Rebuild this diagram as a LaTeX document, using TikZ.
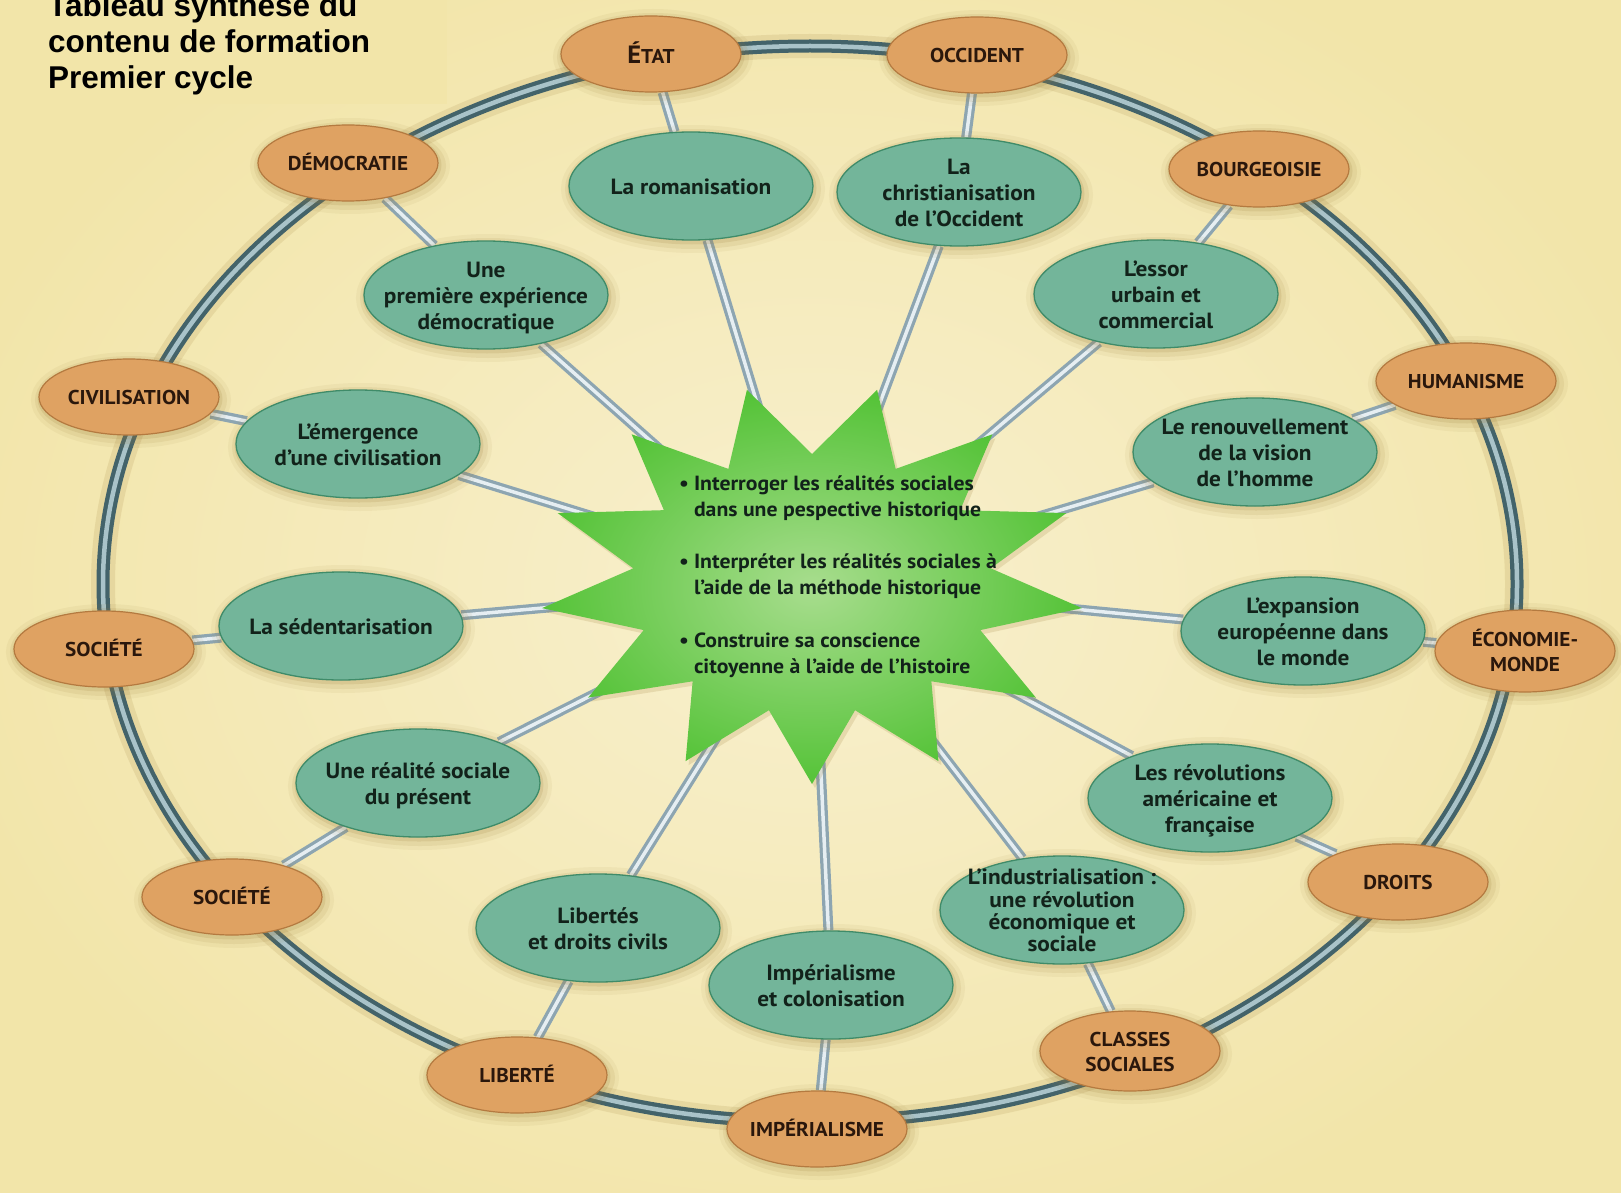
\documentclass[tikz,border=0pt]{standalone}
\usepackage{fontspec}
\usetikzlibrary{shapes.geometric}
\newfontfamily\labelfont{PT Sans}[FakeStretch=1.06]
\newfontfamily\headfont{Liberation Sans}

\definecolor{paper}{HTML}{F2E5A9}
\definecolor{paperlight}{HTML}{F8F0CE}
\definecolor{halo}{HTML}{9C7E3A}
\definecolor{ringdark}{HTML}{43636A}
\definecolor{ringlight}{HTML}{A9C3C9}
\definecolor{spokeout}{HTML}{8DA5B1}
\definecolor{spokein}{HTML}{E6EEF2}
\definecolor{topicfill}{HTML}{73B59A}
\definecolor{topicline}{HTML}{3F8B69}
\definecolor{topictext}{HTML}{12221A}
\definecolor{conceptfill}{HTML}{DFA262}
\definecolor{conceptline}{HTML}{B47A40}
\definecolor{concepttext}{HTML}{2A170C}
\definecolor{starin}{HTML}{A8DD8E}
\definecolor{starout}{HTML}{55C338}

\pgfdeclarelayer{bg}
\pgfdeclarelayer{links}
\pgfsetlayers{bg,links,main}

% centred multi-line text that does not enlarge the ellipse around it
\newcommand\cbox[1]{\makebox[0pt]{\raisebox{-.4em}[0pt][0pt]{\begin{tabular}{@{}c@{}}#1\end{tabular}}}}

\tikzset{
  halo/.style={
    preaction={draw=halo, line width=20pt, opacity=.07, transform canvas={shift={(2pt,-3pt)}}},
    preaction={draw=halo, line width=12pt, opacity=.11, transform canvas={shift={(2pt,-3pt)}}},
    preaction={draw=halo, line width=5pt, opacity=.16, transform canvas={shift={(1pt,-2pt)}}}},
  topic/.style={ellipse, halo, draw=topicline, line width=1.3pt, fill=topicfill,
    minimum width=244pt, minimum height=108pt, inner sep=0pt, text=topictext,
    font=\labelfont\bfseries\fontsize{22}{26}\selectfont},
  concept/.style={ellipse, halo, draw=conceptline, line width=1.2pt, fill=conceptfill,
    minimum width=180pt, minimum height=76pt, inner sep=0pt, text=concepttext,
    font=\labelfont\bfseries\fontsize{20}{25}\selectfont},
  spoke/.style={draw=spokeout, line width=10pt, postaction={draw=spokein, line width=3.5pt}},
  ring/.style={draw=ringdark, line width=13pt,
    preaction={draw=halo, line width=24pt, opacity=.15},
    postaction={draw=ringlight, line width=4.5pt}},
  headline/.style={anchor=base west, inner sep=0pt,
    font=\headfont\bfseries\fontsize{31.5}{36}\selectfont}
}

\begin{document}
\begin{tikzpicture}[x=1pt, y=-1pt]
\useasboundingbox (0,0) rectangle (1621,1193);
\clip (0,0) rectangle (1621,1193);

% paper
\begin{pgfonlayer}{bg}
\fill[paper] (0,0) rectangle (1621,1193);
\shade[inner color=paperlight, outer color=paper] (810,590) ellipse [x radius=900pt, y radius=700pt];
\fill[paper] (0,0) rectangle (447,104);
\draw[ring] (810,584) ellipse [x radius=707pt, y radius=538pt];
\end{pgfonlayer}

% title
\node[headline] (title1) at (48,17) {Tableau synthèse du};
\node[headline] (title2) at (48,53) {contenu de formation};
\node[headline] (title3) at (48,89) {Premier cycle};

% central star with the three aims
\coordinate (starc) at (812,584);
\path[preaction={fill=halo, opacity=.18, transform canvas={shift={(3pt,-4pt)}}},
      inner color=starin, outer color=starout]
  (812,784) \foreach \k in {1,...,25}{
    -- ({812 + (mod(\k,2)==0 ? 272 : 180)*cos(270+\k*360/26)},
        {584 - (mod(\k,2)==0 ? 200 : 130)*sin(270+\k*360/26)}) } -- cycle;
\node[anchor=base west, inner sep=0pt, text=topictext,
      font=\labelfont\bfseries\fontsize{20.5}{26}\selectfont] (aims) at (679,490)
  {\begin{tabular}[t]{@{}l@{\hspace{5pt}}l@{}}
   • & Interroger les réalités sociales\\
     & dans une pespective historique\\[26pt]
   • & Interpréter les réalités sociales à\\
     & l’aide de la méthode historique\\[27pt]
   • & Construire sa conscience\\
     & citoyenne à l’aide de l’histoire
   \end{tabular}};

% themes of the programme
\node[topic] (roman)     at (691,186) {\cbox{La romanisation}};
\node[topic] (christ)    at (959,192) {\cbox{La\\christianisation\\de l’Occident}};
\node[topic] (essor)     at (1156,294) {\cbox{L’essor\\urbain et\\commercial}};
\node[topic] (premiere)  at (486,295) {\cbox{Une\\première expérience\\démocratique}};
\node[topic] (emergence) at (358,444) {\cbox{L’émergence\\d’une civilisation}};
\node[topic] (renouv)    at (1255,452) {\cbox{Le renouvellement\\de la vision\\de l’homme}};
\node[topic] (sedent)    at (341,626) {\cbox{La sédentarisation}};
\node[topic] (expansion) at (1303,631) {\cbox{L’expansion\\européenne dans\\le monde}};
\node[topic] (realite)   at (418,783) {\cbox{Une réalité sociale\\du présent}};
\node[topic] (revol)     at (1210,798) {\cbox{Les révolutions\\américaine et\\française}};
\node[topic] (libertes)  at (598,928) {\cbox{Libertés\\et droits civils}};
\node[topic, font=\labelfont\bfseries\fontsize{22}{22}\selectfont]
                         (indus)     at (1062,910) {\cbox{L’industrialisation :\\une révolution\\économique et\\sociale}};
\node[topic] (imperial)  at (831,985) {\cbox{Impérialisme\\et colonisation}};

% concepts on the ring
\node[concept] (etat)       at (651,54)   {\cbox{{\fontsize{25}{25}\selectfont É}TAT}};
\node[concept] (occident)   at (977,55)   {\cbox{OCCIDENT}};
\node[concept] (bourg)      at (1259,169) {\cbox{BOURGEOISIE}};
\node[concept] (human)      at (1466,381) {\cbox{HUMANISME}};
\node[concept, minimum height=82pt] (ecomonde) at (1525,651) {\cbox{ÉCONOMIE-\\MONDE}};
\node[concept] (droits)     at (1398,882) {\cbox{DROITS}};
\node[concept, minimum height=80pt] (classes) at (1130,1051) {\cbox{CLASSES\\SOCIALES}};
\node[concept] (imper)      at (817,1129) {\cbox{IMPÉRIALISME}};
\node[concept] (liberte)    at (517,1075) {\cbox{LIBERTÉ}};
\node[concept] (societeb)   at (232,897)  {\cbox{SOCIÉTÉ}};
\node[concept] (societea)   at (104,649)  {\cbox{SOCIÉTÉ}};
\node[concept] (civil)      at (129,397)  {\cbox{CIVILISATION}};
\node[concept] (democ)      at (348,163)  {\cbox{DÉMOCRATIE}};

% spokes to the star and links to the concepts
\begin{pgfonlayer}{links}
\foreach \t in {roman,christ,essor,premiere,emergence,renouv,sedent,
                expansion,realite,revol,libertes,indus,imperial}
  \draw[spoke] (\t) -- (starc);
\foreach \t/\c in {roman/etat, christ/occident, essor/bourg, renouv/human,
                   expansion/ecomonde, revol/droits, indus/classes, imperial/imper,
                   libertes/liberte, realite/societeb, sedent/societea,
                   emergence/civil, premiere/democ}
  \draw[spoke] (\t) -- (\c);
\end{pgfonlayer}
\end{tikzpicture}
\end{document}
